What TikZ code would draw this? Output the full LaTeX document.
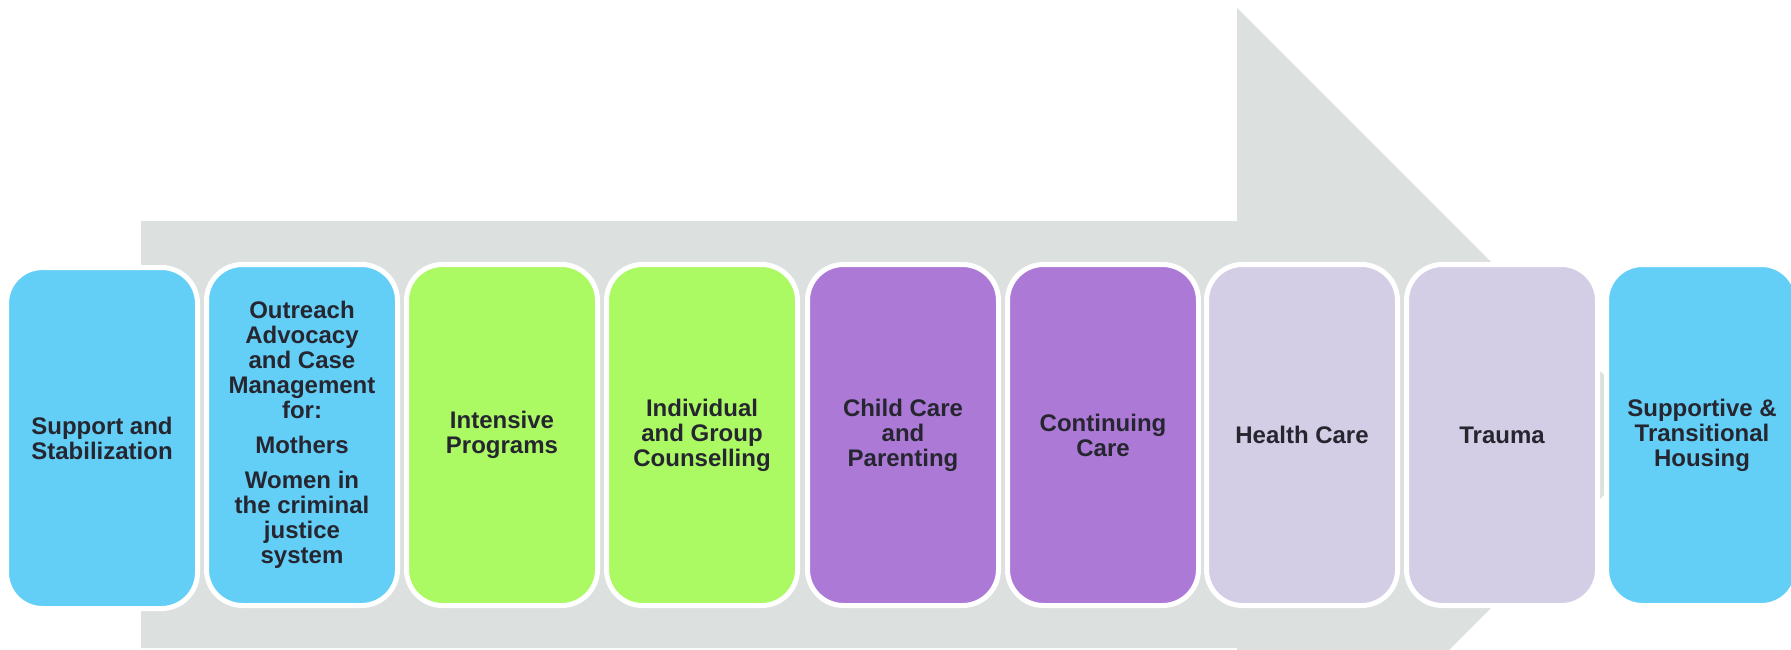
\documentclass[tikz,border=0pt]{standalone}
\usepackage{fontspec}
\setmainfont{Liberation Sans}
\definecolor{skyfill}{HTML}{63CFF7}
\definecolor{limefill}{HTML}{ABF963}
\definecolor{violetfill}{HTML}{AD79D6}
\definecolor{lilacfill}{HTML}{D3CDE5}
\definecolor{arrowgrey}{HTML}{DCE0DF}
\definecolor{textdark}{HTML}{262630}

\begin{document}
\begin{tikzpicture}[x=0.5pt,y=-0.5pt,
    stage/.style={draw=white, line width=2.5pt, rounded corners=18pt,
        minimum width=95.5pt, minimum height=170.5pt, inner sep=0pt,
        align=center, text=textdark,
        font=\bfseries\fontsize{12}{12.5}\selectfont}]
            \clip (0,0) rectangle (1791,649);
            % big grey arrow behind the stages
            \coordinate (A) at (141,221);
            \coordinate (B) at (1237,221);
            \coordinate (C) at (1237,8);
            \coordinate (T) at (1664,435);
            \coordinate (D) at (1237,862);
            \coordinate (E) at (1237,648);
            \coordinate (F) at (141,648);
            \fill[arrowgrey] (A) -- (B) -- (C) -- (T) -- (D) -- (E) -- (F) -- cycle;
            % stages
            \node[stage, fill=skyfill] (support) at (102,438) {Support and\\Stabilization};
            \node[stage, fill=skyfill] (outreach) at (302,435) {Outreach\\Advocacy\\and Case\\Management\\for:\\[5pt]Mothers\\[5pt]Women in\\the criminal\\justice\\system};
            \node[stage, fill=limefill] (intensive) at (502,435) {Intensive\\Programs};
            \node[stage, fill=limefill] (counselling) at (702,435) {Individual\\and Group\\Counselling};
            \node[stage, fill=violetfill] (childcare) at (903,435) {Child Care\\and\\Parenting};
            \node[stage, fill=violetfill] (continuing) at (1103,435) {Continuing\\Care};
            \node[stage, fill=lilacfill] (health) at (1302,435) {Health Care};
            \node[stage, fill=lilacfill] (trauma) at (1502,435) {Trauma};
            \node[stage, fill=skyfill] (housing) at (1702,435) {Supportive \&\\Transitional\\Housing};
        \end{tikzpicture}
\end{document}
